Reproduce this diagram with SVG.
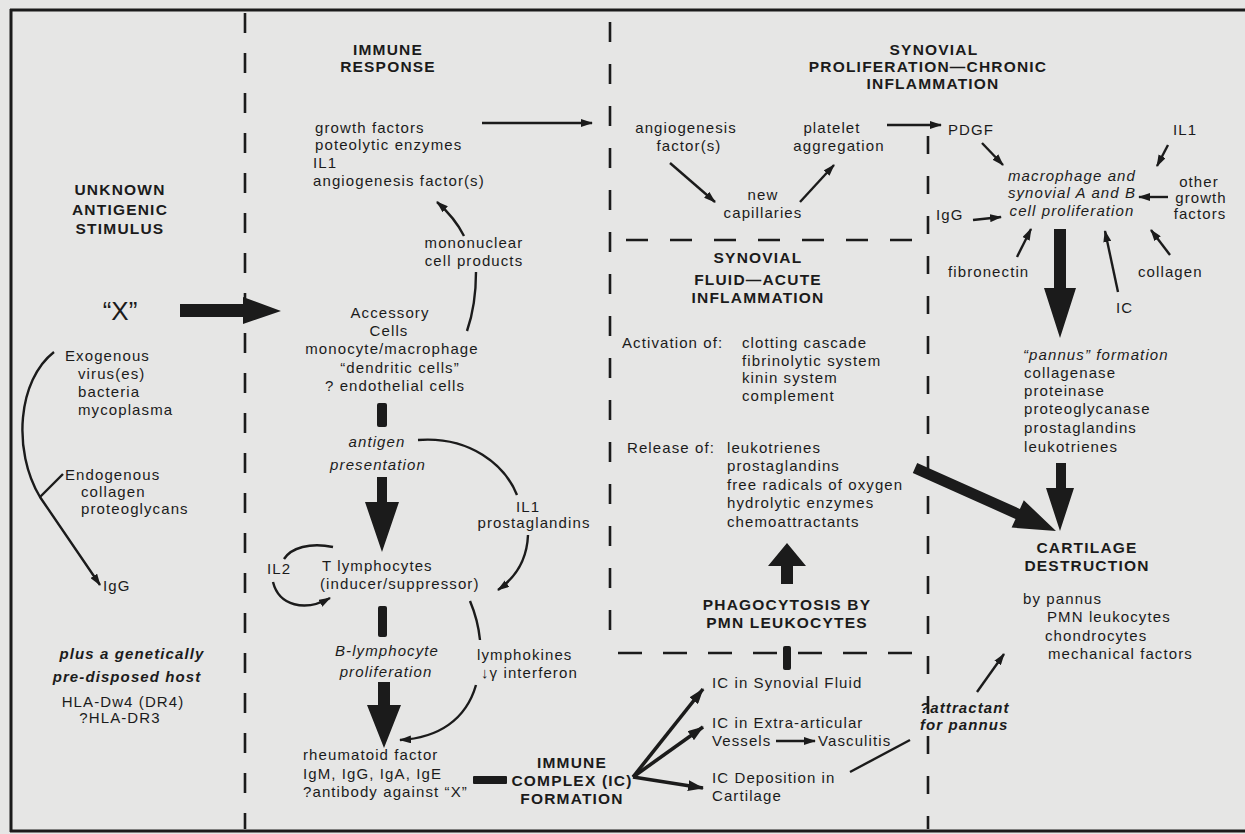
<svg xmlns="http://www.w3.org/2000/svg" width="1245" height="834" viewBox="0 0 1245 834">
<defs>
<style>
text{font-family:"Liberation Sans",Arial,sans-serif;font-size:15px;fill:#1b1b1b;letter-spacing:1.1px}
.b{font-weight:bold;font-size:15.5px;letter-spacing:1.2px}
.i{font-style:italic}
.bi{font-weight:bold;font-style:italic}
.m{text-anchor:middle}
.ln{fill:none;stroke:#1b1b1b;stroke-width:2.4}
.ln3{fill:none;stroke:#1b1b1b;stroke-width:3.6}
.frame{stroke:#1b1b1b;stroke-width:3;fill:none}
.dash{stroke:#1b1b1b;stroke-width:2.6;fill:none}
.thick{fill:#1b1b1b}
</style>
<marker id="a" viewBox="0 0 12 8" markerWidth="12" markerHeight="8" refX="11" refY="4" orient="auto" markerUnits="userSpaceOnUse"><path d="M0,0 L12,4 L0,8 z" fill="#1b1b1b"/></marker>
<marker id="a2" viewBox="0 0 16 11" markerWidth="16" markerHeight="11" refX="15" refY="5.5" orient="auto" markerUnits="userSpaceOnUse"><path d="M0,0 L16,5.5 L0,11 z" fill="#1b1b1b"/></marker>
</defs>
<rect width="1245" height="834" fill="#e6e6e5"/>

<g id="frame">
<line class="frame" x1="10" y1="10" x2="1245" y2="10"/>
<line class="frame" x1="11" y1="9" x2="11" y2="832"/>
<line class="frame" x1="10" y1="831" x2="1245" y2="831"/>
<line class="dash" x1="245" y1="13" x2="245" y2="829" stroke-dasharray="20 20"/>
<line class="dash" x1="610" y1="22" x2="610" y2="652" stroke-dasharray="20 22"/>
<line class="dash" x1="928" y1="136" x2="928" y2="829" stroke-dasharray="18 22"/>
<line class="dash" x1="626" y1="240" x2="927" y2="240" stroke-dasharray="22 22"/>
<line class="dash" x1="618" y1="653" x2="927" y2="653" stroke-dasharray="24 21"/>
</g>

<g id="unknown-stimulus">
<text class="b m" x="120" y="195">UNKNOWN</text>
<text class="b m" x="120" y="215">ANTIGENIC</text>
<text class="b m" x="120" y="234">STIMULUS</text>
</g>
<g id="x">
<text class="m" x="120" y="320" style="font-size:26px;letter-spacing:0">“X”</text>
</g>
<g id="exogenous">
<text x="65" y="361">Exogenous</text>
<text x="78" y="379">virus(es)</text>
<text x="78" y="397">bacteria</text>
<text x="78" y="415">mycoplasma</text>
</g>
<g id="endogenous">
<text x="65" y="480">Endogenous</text>
<text x="81" y="497">collagen</text>
<text x="81" y="514">proteoglycans</text>
</g>
<g id="igg-left">
<text x="103" y="591">IgG</text>
</g>
<g id="host">
<text class="bi m" x="132" y="659">plus a genetically</text>
<text class="bi m" x="127" y="682">pre-disposed host</text>
<text class="m" x="123" y="707">HLA-Dw4 (DR4)</text>
<text class="m" x="120" y="723">?HLA-DR3</text>
</g>

<g id="immune-response">
<text class="b m" x="388" y="55">IMMUNE</text>
<text class="b m" x="388" y="72">RESPONSE</text>
</g>
<g id="products">
<text x="315" y="133">growth factors</text>
<text x="315" y="150">poteolytic enzymes</text>
<text x="313" y="168">IL1</text>
<text x="313" y="186">angiogenesis factor(s)</text>
</g>
<g id="mononuclear">
<text class="m" x="474" y="248">mononuclear</text>
<text class="m" x="474" y="266">cell products</text>
</g>
<g id="accessory">
<text class="m" x="390" y="318">Accessory</text>
<text class="m" x="389" y="336">Cells</text>
<text class="m" x="392" y="354">monocyte/macrophage</text>
<text class="m" x="400" y="373">“dendritic cells”</text>
<text class="m" x="395" y="391">? endothelial cells</text>
</g>
<g id="antigen">
<text class="i m" x="377" y="447">antigen</text>
<text class="i m" x="378" y="470">presentation</text>
</g>
<g id="il1-pg">
<text class="m" x="528" y="512">IL1</text>
<text class="m" x="534" y="528">prostaglandins</text>
</g>
<g id="il2">
<text x="267" y="574">IL2</text>
</g>
<g id="t-lymph">
<text x="322" y="571">T lymphocytes</text>
<text x="320" y="589">(inducer/suppressor)</text>
</g>
<g id="b-lymph">
<text class="i m" x="387" y="656">B-lymphocyte</text>
<text class="i m" x="386" y="677">proliferation</text>
</g>
<g id="lymphokines">
<text x="477" y="660">lymphokines</text>
<text x="481" y="678">↓γ interferon</text>
</g>
<g id="rheumatoid">
<text x="303" y="760">rheumatoid factor</text>
<text x="303" y="779">IgM, IgG, IgA, IgE</text>
<text x="303" y="797">?antibody against “X”</text>
</g>
<g id="ic-formation">
<text class="b m" x="572" y="768">IMMUNE</text>
<text class="b m" x="572" y="786">COMPLEX (IC)</text>
<text class="b m" x="572" y="804">FORMATION</text>
</g>

<g id="synovial-proliferation">
<text class="b m" x="934" y="55">SYNOVIAL</text>
<text class="b m" x="928" y="72">PROLIFERATION—CHRONIC</text>
<text class="b m" x="933" y="89">INFLAMMATION</text>
</g>
<g id="angio">
<text class="m" x="686" y="133">angiogenesis</text>
<text class="m" x="689" y="151">factor(s)</text>
</g>
<g id="capillaries">
<text class="m" x="763" y="200">new</text>
<text class="m" x="763" y="218">capillaries</text>
</g>
<g id="platelet">
<text class="m" x="832" y="133">platelet</text>
<text class="m" x="839" y="151">aggregation</text>
</g>
<g id="pdgf"><text x="948" y="135">PDGF</text></g>
<g id="il1-right"><text x="1173" y="135">IL1</text></g>
<g id="macrophage">
<text class="i m" x="1072" y="181">macrophage and</text>
<text class="i m" x="1072" y="198">synovial A and B</text>
<text class="i m" x="1072" y="216">cell proliferation</text>
</g>
<g id="other-gf">
<text class="m" x="1199" y="187">other</text>
<text class="m" x="1201" y="203">growth</text>
<text class="m" x="1200" y="219">factors</text>
</g>
<g id="igg-right"><text x="936" y="220">IgG</text></g>
<g id="fibronectin"><text x="948" y="277">fibronectin</text></g>
<g id="collagen"><text x="1138" y="277">collagen</text></g>
<g id="ic-right"><text x="1116" y="313">IC</text></g>
<g id="pannus">
<text class="i" x="1023" y="360">“pannus” formation</text>
<text x="1024" y="378">collagenase</text>
<text x="1024" y="396">proteinase</text>
<text x="1024" y="414">proteoglycanase</text>
<text x="1024" y="433">prostaglandins</text>
<text x="1024" y="452">leukotrienes</text>
</g>
<g id="cartilage">
<text class="b m" x="1087" y="553">CARTILAGE</text>
<text class="b m" x="1087" y="571">DESTRUCTION</text>
</g>
<g id="by-pannus">
<text x="1023" y="604">by pannus</text>
<text x="1047" y="622">PMN leukocytes</text>
<text x="1045" y="641">chondrocytes</text>
<text x="1048" y="659">mechanical factors</text>
</g>

<g id="synovial-fluid">
<text class="b m" x="758" y="263">SYNOVIAL</text>
<text class="b m" x="758" y="285">FLUID—ACUTE</text>
<text class="b m" x="758" y="303">INFLAMMATION</text>
</g>
<g id="activation">
<text x="622" y="348">Activation of:</text>
<text x="742" y="348">clotting cascade</text>
<text x="742" y="366">fibrinolytic system</text>
<text x="742" y="383">kinin system</text>
<text x="742" y="401">complement</text>
</g>
<g id="release">
<text x="627" y="453">Release of:</text>
<text x="727" y="453">leukotrienes</text>
<text x="727" y="471">prostaglandins</text>
<text x="727" y="490">free radicals of oxygen</text>
<text x="727" y="508">hydrolytic enzymes</text>
<text x="727" y="527">chemoattractants</text>
</g>
<g id="phagocytosis">
<text class="b m" x="787" y="610">PHAGOCYTOSIS BY</text>
<text class="b m" x="787" y="628">PMN  LEUKOCYTES</text>
</g>
<g id="ic-synovial"><text x="712" y="688">IC in Synovial Fluid</text></g>
<g id="ic-extra">
<text x="712" y="728">IC in Extra-articular</text>
<text x="712" y="746">Vessels</text>
<text x="818" y="746">Vasculitis</text>
</g>
<g id="ic-deposition">
<text x="712" y="783">IC Deposition in</text>
<text x="712" y="801">Cartilage</text>
</g>
<g id="attractant">
<text class="bi" x="920" y="713">?attractant</text>
<text class="bi" x="920" y="730">for pannus</text>
</g>

<g id="connectors">
<polygon class="thick" points="180,304 243,304 243,297 281,311 243,324 243,317 180,317"/>
<rect class="thick" x="377" y="403" width="10" height="24" rx="2"/>
<polygon class="thick" points="377,477 387,477 387,502 399,502 382,552 365,502 377,502"/>
<rect class="thick" x="378" y="606" width="9" height="31" rx="2"/>
<polygon class="thick" points="378,682 390,682 390,705 401,705 384,748 367,705 378,705"/>
<rect class="thick" x="473" y="776" width="34" height="8" rx="1"/>
<rect class="thick" x="783" y="646" width="8" height="24" rx="2"/>
<polygon class="thick" points="781,584 793,584 793,566 806,566 787,543 768,566 781,566"/>
<polygon class="thick" points="1054,229 1066,229 1066,288 1076,288 1060,338 1044,288 1054,288"/>
<polygon class="thick" points="1056,463 1066,463 1066,488 1074,488 1060,531 1046,488 1056,488"/>
<polygon class="thick" points="917.2,463 1019.9,508.9 1023.8,500.2 1056,531 1011.6,527.6 1015.5,518.9 912.8,473"/>
<path class="ln" d="M54,352 C18,380 12,450 40,497 L100,585" marker-end="url(#a)"/>
<path class="ln" d="M63,474 L40,497"/>
<path class="ln" d="M482,123 L592,123" marker-end="url(#a)"/>
<path class="ln" d="M464,236 Q455,218 437,202" marker-end="url(#a)"/>
<path class="ln" d="M476,272 Q476,305 467,331"/>
<path class="ln" d="M418,440 C470,436 505,465 517,495"/>
<path class="ln" d="M528,535 C527,560 515,578 498,590" marker-end="url(#a)"/>
<path class="ln" d="M470,601 Q478,620 480,640"/>
<path class="ln" d="M476,685 C466,720 438,738 400,740" marker-end="url(#a)"/>
<path class="ln" d="M333,547 C310,542 291,548 284,559"/>
<path class="ln" d="M273,582 C279,606 305,612 330,598" marker-end="url(#a)"/>
<path class="ln" d="M670,163 L715,202" marker-end="url(#a)"/>
<path class="ln" d="M800,202 L834,165" marker-end="url(#a)"/>
<path class="ln" d="M887,125 L941,125" marker-end="url(#a)"/>
<path class="ln" d="M982,143 L1003,165" marker-end="url(#a)"/>
<path class="ln" d="M1168,145 L1157,166" marker-end="url(#a)"/>
<path class="ln" d="M1168,197 L1139,197" marker-end="url(#a)"/>
<path class="ln" d="M973,220 L1001,217" marker-end="url(#a)"/>
<path class="ln" d="M1017,257 L1031,229" marker-end="url(#a)"/>
<path class="ln" d="M1118,292 L1105,231" marker-end="url(#a)"/>
<path class="ln" d="M1170,255 L1151,230" marker-end="url(#a)"/>
<path class="ln3" d="M633,777 L703,689" marker-end="url(#a2)"/>
<path class="ln3" d="M633,777 L703,727" marker-end="url(#a2)"/>
<path class="ln3" d="M633,777 L703,788" marker-end="url(#a2)"/>
<path class="ln" d="M776,741 L815,741" marker-end="url(#a)"/>
<path class="ln" d="M850,772 L910,740"/>
<path class="ln" d="M977,692 L1004,654" marker-end="url(#a)"/>
</g>
</svg>
